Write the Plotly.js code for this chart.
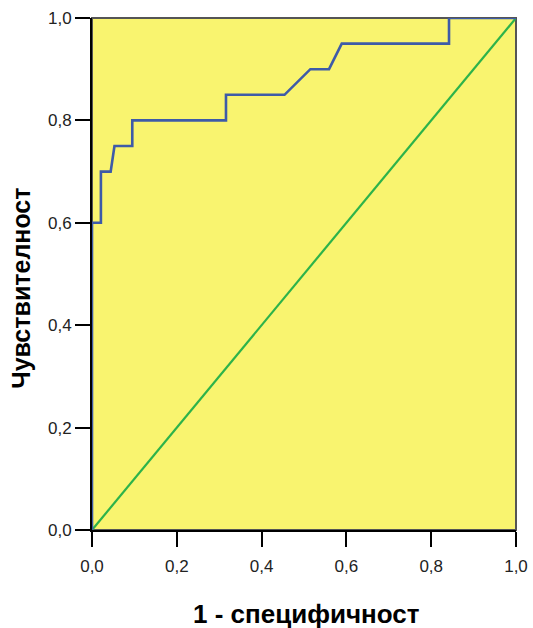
<!DOCTYPE html>
<html>
<head>
<meta charset="utf-8">
<script src="https://cdn.plot.ly/plotly-3.0.1.min.js"></script>
<style>html,body{margin:0;padding:0;background:#fff;}</style>
</head>
<body>
<div id="chart" style="width:533px;height:628px;"></div>
<script>
// ROC curve (1 - specificity, sensitivity)
const rocX = [0, 0, 0.021, 0.021, 0.044, 0.053, 0.095, 0.095, 0.316, 0.316, 0.454, 0.515, 0.559, 0.589, 0.842, 0.842, 1];
const rocY = [0, 0.6, 0.6, 0.7, 0.7, 0.75, 0.75, 0.8, 0.8, 0.85, 0.85, 0.9, 0.9, 0.95, 0.95, 1, 1];
// Reference line
const refX = [0, 1];
const refY = [0, 1];
const tickVals = [0, 0.2, 0.4, 0.6, 0.8, 1.0];
const tickText = ["0,0", "0,2", "0,4", "0,6", "0,8", "1,0"];
const xTitle = "1 - специфичност";
const yTitle = "Чувствителност";

const traces = [
  {x: refX, y: refY, mode: "lines", line: {color: "#2db34a", width: 2.2}, hoverinfo: "skip", showlegend: false},
  {x: rocX, y: rocY, mode: "lines", line: {color: "#3e5ba8", width: 2.6}, hoverinfo: "skip", showlegend: false}
];

const axisCommon = {
  range: [0, 1],
  tickvals: tickVals,
  ticktext: tickText,
  showgrid: false,
  zeroline: false,
  showline: true,
  linecolor: "#000",
  linewidth: 2,
  ticks: "outside",
  ticklen: 15,
  tickwidth: 2,
  tickcolor: "#000",
  tickfont: {family: "Liberation Sans, Arial, sans-serif", size: 17, color: "#222"},
  fixedrange: true
};

const layout = {
  width: 533,
  height: 628,
  margin: {l: 92, r: 17, t: 18, b: 98},
  paper_bgcolor: "#ffffff",
  plot_bgcolor: "#f9f46f",
  showlegend: false,
  xaxis: Object.assign({}, axisCommon, {ticklabelstandoff: 5}),
  yaxis: Object.assign({}, axisCommon),
  shapes: [
    {type: "rect", xref: "paper", yref: "paper", x0: 0, y0: 0, x1: 1, y1: 1,
     line: {color: "#555", width: 2}, layer: "below"}
  ],
  annotations: [
    {text: xTitle, xref: "paper", yref: "paper", x: 0.506, y: 0, yshift: -84,
     showarrow: false, xanchor: "center", yanchor: "middle",
     font: {family: "Liberation Sans, Arial, sans-serif", size: 26, color: "#000", weight: "bold"}},
    {text: yTitle, xref: "paper", yref: "paper", x: 0, xshift: -71, y: 0.471,
     textangle: -90, showarrow: false, xanchor: "center", yanchor: "middle",
     font: {family: "Liberation Sans, Arial, sans-serif", size: 25, color: "#000", weight: "bold"}}
  ]
};

Plotly.newPlot("chart", traces, layout, {displayModeBar: false, staticPlot: true});
</script>
</body>
</html>
